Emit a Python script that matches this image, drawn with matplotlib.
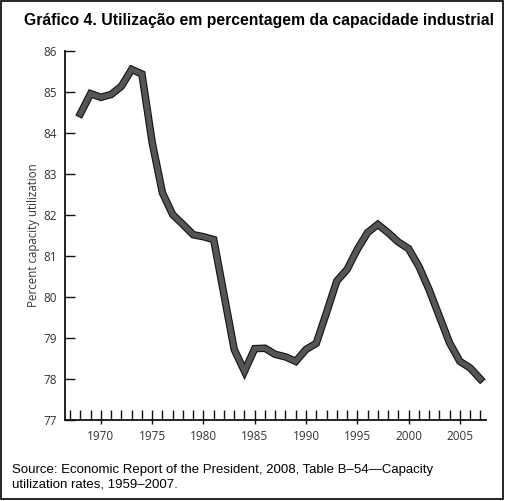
import matplotlib
matplotlib.use("Agg")
import matplotlib.pyplot as plt
import matplotlib.patheffects as pe
from matplotlib.patches import Rectangle
from matplotlib.ticker import MultipleLocator

years = list(range(1968, 2008))
utilization = [84.47, 84.96, 84.87, 84.94, 85.14, 85.55, 85.44, 83.77, 82.54, 82.01,
               81.77, 81.52, 81.47, 81.40, 80.06, 78.72, 78.19, 78.74, 78.75, 78.60,
               78.54, 78.43, 78.72, 78.87, 79.62, 80.39, 80.67, 81.16, 81.57, 81.77,
               81.57, 81.34, 81.18, 80.75, 80.18, 79.53, 78.88, 78.43, 78.27, 78.00]
y_ticks = [77, 78, 79, 80, 81, 82, 83, 84, 85, 86]
x_major = [1970, 1975, 1980, 1985, 1990, 1995, 2000, 2005]

title = "Gráfico 4. Utilização em percentagem da capacidade industrial"
ylabel = "Percent capacity utilization"
source = "Source: Economic Report of the President, 2008, Table B\u201354\u2014Capacity\nutilization rates, 1959\u20132007."

W, H = 509, 501
fig = plt.figure(figsize=(W / 100, H / 100), dpi=100)
ax = fig.add_axes([65 / W, 1 - 420 / H, (486 - 65) / W, (420 - 51) / H])

ax.plot(years, utilization, color="#555555", lw=3.8, solid_joinstyle="miter",
        path_effects=[pe.Stroke(linewidth=5.4, foreground="#111111"), pe.Normal()])

ax.set_xlim(1966.5, 2007.55)
ax.set_ylim(77, 86)
ax.set_yticks(y_ticks)
ax.set_xticks(x_major)
ax.xaxis.set_minor_locator(MultipleLocator(1))
ax.xaxis.remove_overlapping_locs = False

for s in ["top", "right"]:
    ax.spines[s].set_visible(False)
for s in ["left", "bottom"]:
    ax.spines[s].set_linewidth(1.3)
    ax.spines[s].set_color("#111111")

tick_font = "Open Sans"
ax.tick_params(axis="y", direction="in", length=7, width=1, pad=6, colors="#111111",
               labelcolor="#333333", labelsize=8.5)
ax.tick_params(axis="x", which="major", direction="out", length=3, width=1, pad=4,
               colors="#111111", labelcolor="#333333", labelsize=8.5)
ax.tick_params(axis="x", which="minor", direction="in", length=7, width=1, colors="#111111")
for lab in ax.get_xticklabels() + ax.get_yticklabels():
    lab.set_fontfamily(tick_font)

ax.set_ylabel(ylabel, fontfamily=tick_font, fontsize=8.3, color="#333333", labelpad=2)

fig.text(0.508, 1 - 20 / H, title, ha="center", va="center",
         fontfamily="Liberation Sans", fontweight="bold", fontsize=11.3, color="black")
fig.text(12 / W, 1 - 464 / H, source, ha="left", va="top",
         fontfamily="Liberation Sans", fontsize=9.5, color="black", linespacing=1.3)

fig.patches.append(Rectangle((1 / W, 1 - 499 / H), 502 / W, 498 / H,
                             transform=fig.transFigure, fill=False,
                             edgecolor="black", lw=1.2))

fig.savefig("out.png", dpi=100)
